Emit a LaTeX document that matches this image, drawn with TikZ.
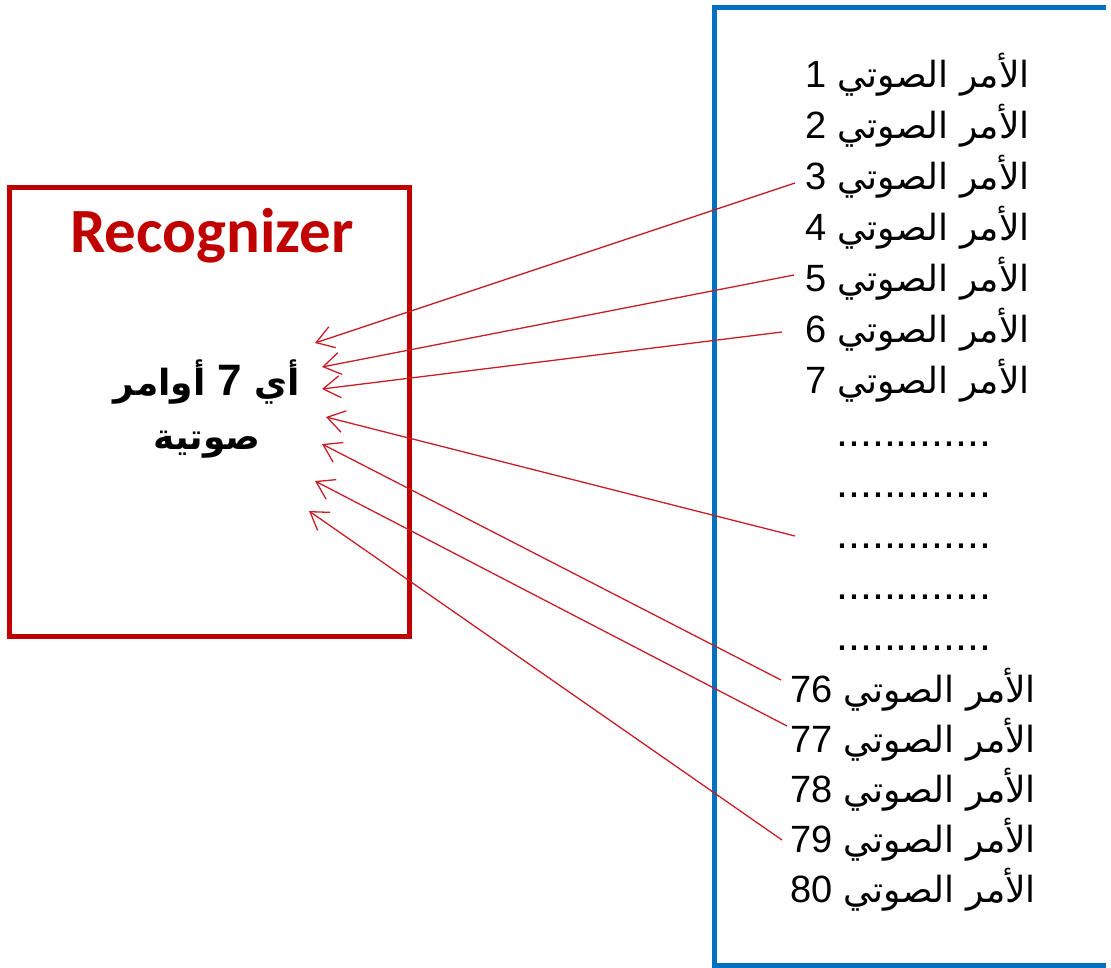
\documentclass[tikz,border=0pt]{standalone}
\usepackage{fontspec}
\usetikzlibrary{arrows.meta}
\TeXXeTstate=1
\newfontfamily\arabicfont[Script=Arabic]{DejaVu Sans}
\newfontfamily\numfont{Liberation Sans}
\newfontfamily\titlefont{Carlito}
\definecolor{c1}{RGB}{192,0,0}
\definecolor{c2}{RGB}{0,112,192}
\definecolor{c3}{RGB}{200,30,40}
\tikzstyle{voice list}=[
    cmd/.style={inner sep=0pt,anchor=base west,font={\arabicfont\fontsize{36}{36}\selectfont}},
    gap/.style={inner sep=0pt,anchor=base west,font={\numfont\fontsize{43}{43}\selectfont}},
    rec box/.style={draw=c1,line width=5pt,inner sep=0pt},
    list box/.style={draw=c2,line width=5pt},
    pick/.style={c3,line width=1.3pt,-{Straight Barb[length=17pt,width=22pt]}},
]
\newcommand{\amr}[1]{\beginR الأمر الصوتي {\numfont\fontsize{38}{38}\selectfont\beginL#1\endL}\endR}

\begin{document}
\begin{tikzpicture}[voice list, x=1pt, y=-1pt]
    \useasboundingbox (0,0) rectangle (1111,967);
    \node[rec box, minimum width=400pt, minimum height=449pt] (box) at (209,411.5) {};
    \node[font={\titlefont\bfseries\fontsize{63}{63}\selectfont}, text=c1, anchor=base] (title) at (212,252) {Recognizer};
    \node[font={\arabicfont\bfseries\fontsize{36}{54}\selectfont}, align=center] (goal) at (207,409)
        {\beginR أي {\numfont\bfseries\fontsize{44}{44}\selectfont\beginL 7\endL} أوامر\endR\\\beginR صوتية\endR};
    \draw[list box] (1106,7) -- (714,7) -- (714,965) -- (1106,965);

    \foreach \n in {1,...,7}
        \node[cmd] (c\n) at (805,{87+51*(\n-1)}) {\amr{\n}};
    \foreach \k in {1,...,5}
        \node[gap] (d\k) at (836,{446+51*(\k-1)}) {.............};
    \foreach \n [count=\i] in {76,...,80}
        \node[cmd] (c\n) at (790,{702+50*(\i-1)}) {\amr{\n}};

    \foreach \t/\x/\y in {t1/315/343, t2/322/367, t3/322/389, t4/326/417, t5/322/444, t6/315/481, t7/309/511}
        \coordinate (\t) at (\x,\y);
    \coordinate (s4) at (795,536);

    \foreach \s/\t/\dx/\dy in {c3/t1/-10/-6, c5/t2/-11/-16, c6/t3/-23/-10, c76/t5/-9/-22, c77/t6/-3/-26, c79/t7/-8/-12}
        \draw[pick] ([shift={(\dx,\dy)}]\s.base west) -- (\t);
    \draw[pick] (s4) -- (t4);
\end{tikzpicture}
\end{document}
